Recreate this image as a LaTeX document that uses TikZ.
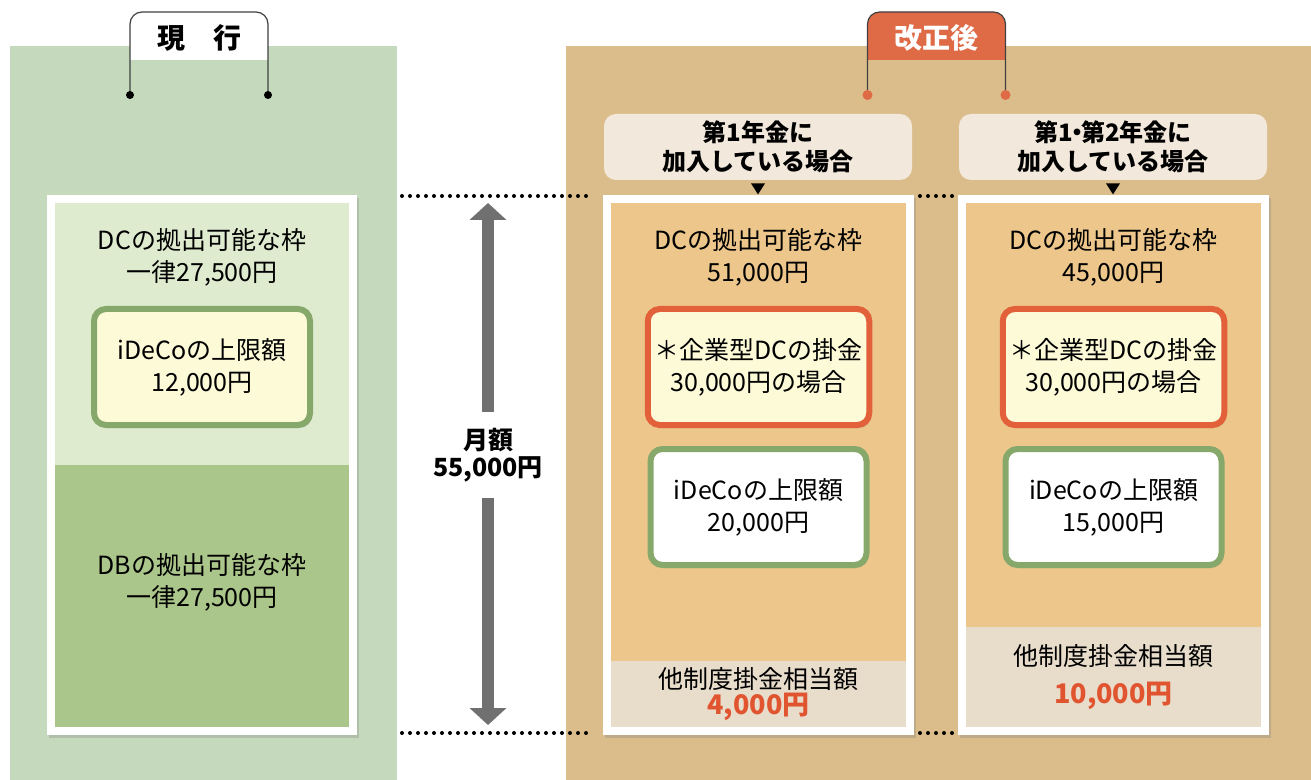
\documentclass[tikz,border=0pt]{standalone}
\usepackage{fontspec}
\setmainfont{Noto Sans CJK JP}
\usepackage{xcolor}
\usepackage{tikz}
\usetikzlibrary{arrows.meta,positioning,calc,shadows}

\definecolor{panelgreen}{HTML}{C5D9BD}
\definecolor{dcgreen}{HTML}{DFEBCF}
\definecolor{dbgreen}{HTML}{ABC68A}
\definecolor{paneltan}{HTML}{DBBD8B}
\definecolor{dcorange}{HTML}{ECC68A}
\definecolor{othbeige}{HTML}{E8DCCB}
\definecolor{hdrbeige}{HTML}{F2E9DC}
\definecolor{boxred}{HTML}{E2613B}
\definecolor{boxgreen}{HTML}{86A86A}
\definecolor{boxyellow}{HTML}{FDFAD8}
\definecolor{tabred}{HTML}{DF6A46}
\definecolor{arrowgray}{HTML}{707070}
\definecolor{amountred}{HTML}{E0552F}
\newcommand{\redamount}[1]{{\fontsize{13.5}{14}\selectfont\bfseries\color{amountred}#1}}

\begin{document}
\begin{tikzpicture}[
    x=0.5pt,
    y=-0.5pt,
    txt/.style={font=\fontsize{12.5}{16}\selectfont, align=center, inner sep=0pt},
    boldtxt/.style={font=\fontsize{12.5}{13.2}\selectfont\bfseries, align=center, inner sep=0pt},
    frameshadow/.style={drop shadow={opacity=0.3, shadow xshift=1pt, shadow yshift=-1.5pt}},
    limitbox/.style={draw=boxgreen, line width=3pt, rounded corners=6pt,
                     minimum width=108pt, minimum height=58pt, align=center,
                     font=\fontsize{12.5}{16}\selectfont,
                     drop shadow={opacity=0.25, shadow xshift=1pt, shadow yshift=-1.5pt}},
    capbox/.style={limitbox, draw=boxred, fill=boxyellow},
    hdrbox/.style={fill=hdrbeige, rounded corners=6pt, minimum width=154pt,
                   minimum height=33pt, align=center,
                   font=\fontsize{12}{14.5}\selectfont\bfseries},
    tabtxt/.style={font=\fontsize{14}{14}\selectfont\bfseries, inner sep=0pt},
    tabline/.style={line width=0.6pt, black!75},
    dotline/.style={line width=2pt, line cap=round, dash pattern=on 0pt off 4pt},
    bigarrow/.style={line width=6pt, arrowgray, -{Triangle[width=18pt,length=8.5pt]}},
]
\newcommand{\phasetab}[5]{%
  \coordinate (#1c) at (#2,36);
  \fill[#4] ($(#1c)+(-69,24)$) [rounded corners=6pt] -- ++(0,-48) -- ++(138,0)
    [sharp corners] -- ++(0,48) -- cycle;
  \node[tabtxt, text=#5] (#1) at ($(#1c)+(0,2)$) {#3};
  \draw[tabline] ($(#1c)+(-69,59)$) coordinate (#1L) [rounded corners=6pt]
    -- ++(0,-83) -- ++(138,0) [sharp corners] -- ++(0,83) coordinate (#1R);
}
\newcommand{\caseframe}[6]{%
  \fill[white, frameshadow] (#2,195) rectangle ++(311,540);
  \fill[dcorange] (#2+8,203) rectangle (#2+303,#3);
  \fill[othbeige] (#2+8,#3) rectangle (#2+303,727);
  \node[txt] (#1dc) at (#2+155.5,257) {DCの拠出可能な枠\\#4};
  \node[capbox] (#1cap) at (#2+155.5,367) {＊企業型DCの掛金\\30,000円の場合};
  \node[limitbox, fill=white] (#1ideco) at (#2+155.5,507) {iDeCoの上限額\\#5};
  \node[txt] (#1other) at (#2+155.5,{(#3+727)/2}) {#6};
}
\useasboundingbox (0,0) rectangle (1311,780);
% background panels
\fill[panelgreen] (10,46) rectangle (397,780);
\fill[paneltan] (566,46) rectangle (1311,780);
% tabs
\phasetab{now}{199}{現　行}{white}{black}
\fill (nowL) circle[radius=2pt] (nowR) circle[radius=2pt];
\phasetab{after}{936.5}{改正後}{tabred}{white}
\fill[tabred] (afterL) circle[radius=2.5pt] (afterR) circle[radius=2.5pt];
% current system
\fill[white, frameshadow] (47,195) rectangle ++(310,540);
\fill[dcgreen] (55,203) rectangle (349,465);
\fill[dbgreen] (55,465) rectangle (349,727);
\node[txt] (nowdc) at (202,257) {DCの拠出可能な枠\\一律27,500円};
\node[limitbox, fill=boxyellow] (nowideco) at (202,367) {iDeCoの上限額\\12,000円};
\node[txt] (nowdb) at (202,582) {DBの拠出可能な枠\\一律27,500円};
% monthly total
\draw[dotline] (402,196) -- (592,196);
\draw[dotline] (402,733) -- (592,733);
\draw[dotline] (920,196) -- (952,196);
\draw[dotline] (920,733) -- (952,733);
\node[boldtxt, inner ysep=8pt] (monthly) at (488,455) {月額\\55,000円};
\coordinate (arrtop) at (488,203);
\coordinate (arrbot) at (488,725);
\draw[bigarrow] (monthly.north) -- (arrtop);
\draw[bigarrow] (monthly.south) -- (arrbot);
% after the reform
\node[hdrbox] (hdrone) at (758,147) {第1年金に\\加入している場合};
\node[hdrbox] (hdrtwo) at (1113,147) {第1\kern-0.32em・\kern-0.32em第2年金に\\加入している場合};
\fill (hdrone.south) ++(-7,3) -- ++(14,0) -- ++(-7,11) -- cycle;
\fill (hdrtwo.south) ++(-7,3) -- ++(14,0) -- ++(-7,11) -- cycle;
\caseframe{one}{603}{661}{51,000円}{20,000円}{他制度掛金相当額\\[-3pt]\redamount{4,000円}}
\caseframe{two}{958}{627}{45,000円}{15,000円}{他制度掛金相当額\\[3pt]\redamount{10,000円}}
\end{tikzpicture}
\end{document}
